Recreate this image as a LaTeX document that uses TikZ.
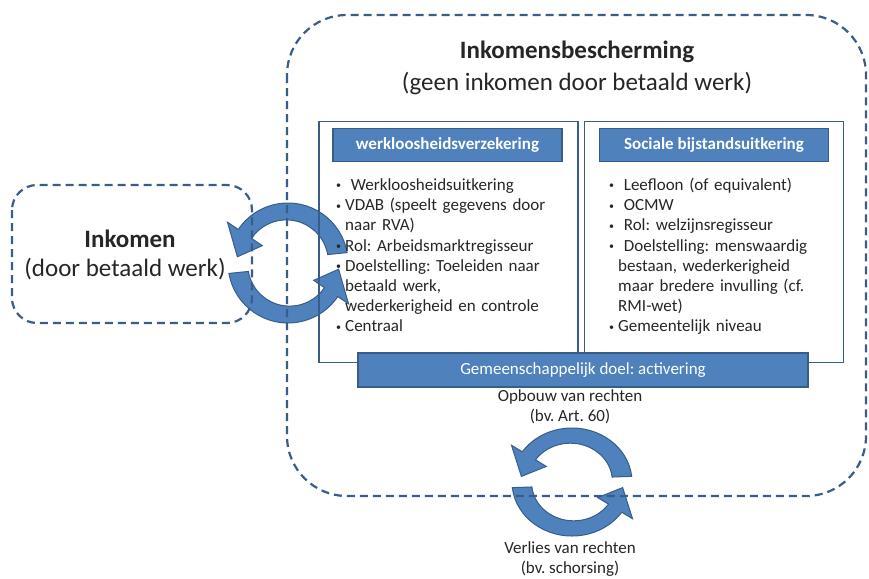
\documentclass[tikz,border=0pt]{standalone}
\usepackage{fontspec}
\setmainfont{Carlito}
\usetikzlibrary{positioning}

\definecolor{boxblue}{RGB}{79,129,189}
\definecolor{edgeblue}{RGB}{56,93,138}
\definecolor{txtgray}{RGB}{38,38,38}

\newcommand{\bitem}[1]{\par\hangindent=9pt\hangafter=1\noindent\makebox[9pt][l]{\raisebox{1.5pt}{\fontsize{10}{10}\selectfont\textbullet}}#1}

\tikzset{
  dashbox/.style={draw=edgeblue, line width=2.2pt, dash pattern=on 8pt off 5pt, rounded corners=#1},
  panel/.style={draw=edgeblue, line width=1.3pt, minimum width=259, minimum height=241, inner sep=0pt},
  headbox/.style={draw=edgeblue, line width=1.5pt, fill=boxblue, text=white, font=\bfseries\fontsize{17}{20}\selectfont, minimum width=229, minimum height=33, inner sep=0pt},
  listtext/.style={anchor=north west, align=left, text width=240, inner sep=0pt},
  cyclearrow/.style={fill=boxblue, draw=edgeblue, line width=1pt},
  bigtext/.style={font=\fontsize{25}{30}\selectfont}
}

\begin{document}
\frenchspacing
\begin{tikzpicture}[x=1pt, y=-1pt, font=\fontsize{17}{20.2}\selectfont, text=txtgray]
  \useasboundingbox (0,0) rectangle (869,578);

  % cycle arrows (drawn first, lines show through)
  \foreach \r in {0,180} {
    \draw[cyclearrow, shift={(288,263)}, rotate=\r]
      (-10:60) arc[start angle=-10, end angle=-146, radius=60] -- (-146:73) -- (-173:51)
      -- (-146:31) -- (-146:44) arc[start angle=-146, end angle=-10, radius=42] -- cycle;
    \draw[cyclearrow, shift={(572,482)}, rotate=\r, yscale=0.9]
      (-6:60) arc[start angle=-6, end angle=-146, radius=60] -- (-146:73) -- (-173:51)
      -- (-146:31) -- (-146:44) arc[start angle=-146, end angle=-6, radius=42] -- cycle;
  }

  % dashed areas
  \draw[dashbox=60] (287,15) rectangle (866,496);
  \draw[dashbox=25] (12,185) rectangle (252,323);

  \node[bigtext, font=\bfseries\fontsize{25}{30}\selectfont] (inkomen) at (130,239) {Inkomen};
  \node[bigtext] (inkomensub) at (125,269) {(door betaald werk)};

  \node[bigtext, font=\bfseries\fontsize{25}{30}\selectfont] (bescherming) at (577,52) {Inkomensbescherming};
  \node[bigtext] (beschermingsub) at (577,84) {(geen inkomen door betaald werk)};

  % two pillars
  \node[panel] (leftpanel) at (448.5,242) {};
  \node[panel] (rightpanel) at (714,242) {};
  \node[headbox] (werkl) at (447.5,145) {werkloosheidsverzekering};
  \node[headbox] (bijstand) at (714,145) {Sociale bijstandsuitkering};

  \node[listtext] (werkllist) at (336,170) {%
    \bitem{\ Werkloosheidsuitkering}
    \bitem{VDAB (speelt gegevens door\newline naar RVA)}
    \bitem{Rol: Arbeidsmarktregisseur}
    \bitem{Doelstelling: Toeleiden naar\newline betaald werk,\newline wederkerigheid en controle}
    \bitem{Centraal}};
  \node[listtext] (bijstandlist) at (609,170) {%
    \bitem{\ Leefloon (of equivalent)}
    \bitem{\ OCMW}
    \bitem{\ Rol: welzijnsregisseur}
    \bitem{\ Doelstelling: menswaardig\newline bestaan, wederkerigheid\newline maar bredere invulling (cf.\newline RMI-wet)}
    \bitem{Gemeentelijk niveau}};

  \node[headbox, font=\fontsize{17}{20}\selectfont, minimum width=450, minimum height=34] (doel) at (583,370) {Gemeenschappelijk doel: activering};

  \node[align=center] (opbouw) at (570,407) {Opbouw van rechten\\(bv. Art. 60)};
  \node[align=center] (verlies) at (570,559) {Verlies van rechten\\(bv. schorsing)};
\end{tikzpicture}
\end{document}
